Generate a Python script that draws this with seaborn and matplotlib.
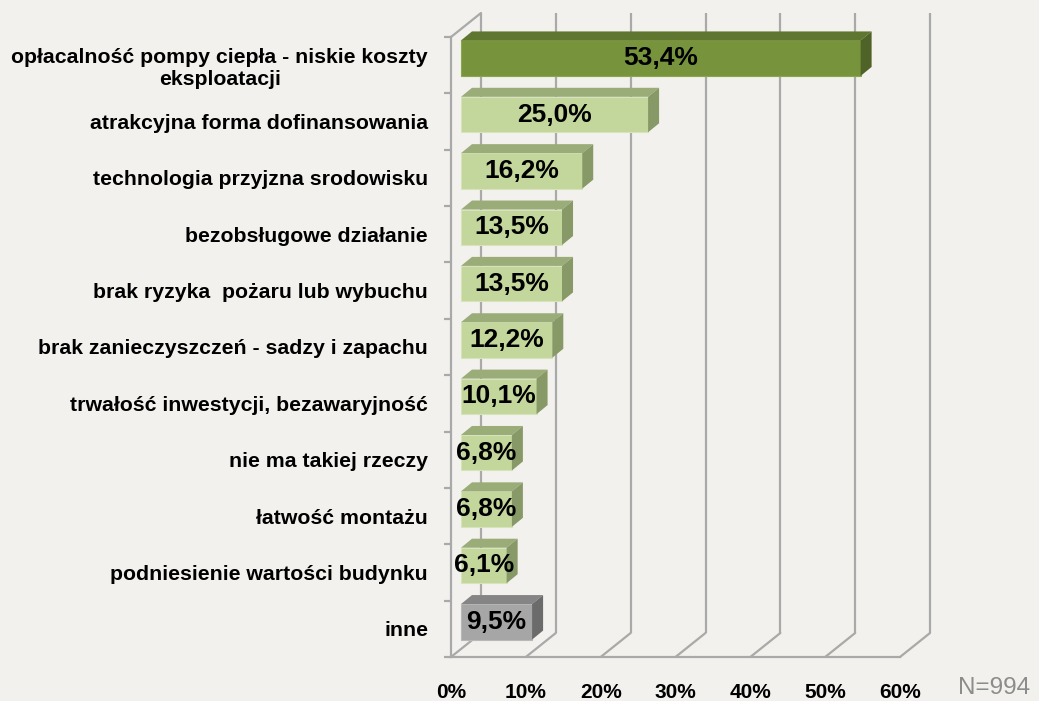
import matplotlib
matplotlib.use("Agg")
import matplotlib.pyplot as plt
import matplotlib.transforms as mtransforms
from matplotlib.patches import Polygon
from matplotlib.lines import Line2D
import seaborn as sns

# --- data ---
categories = [
    "opłacalność pompy ciepła - niskie koszty\neksploatacji",
    "atrakcyjna forma dofinansowania",
    "technologia przyjzna srodowisku",
    "bezobsługowe działanie",
    "brak ryzyka  pożaru lub wybuchu",
    "brak zanieczyszczeń - sadzy i zapachu",
    "trwałość inwestycji, bezawaryjność",
    "nie ma takiej rzeczy",
    "łatwość montażu",
    "podniesienie wartości budynku",
    "inne",
]
values = [53.4, 25.0, 16.2, 13.5, 13.5, 12.2, 10.1, 6.8, 6.8, 6.1, 9.5]
value_labels = ["53,4%", "25,0%", "16,2%", "13,5%", "13,5%", "12,2%",
                "10,1%", "6,8%", "6,8%", "6,1%", "9,5%"]
x_ticks = [0, 10, 20, 30, 40, 50, 60]
x_tick_labels = ["0%", "10%", "20%", "30%", "40%", "50%", "60%"]
sample_note = "N=994"

# bar colours: front, top, side
front_colors = ["#77933c"] + ["#c3d69b"] * 9 + ["#a6a6a6"]
top_colors = ["#5f7630"] + ["#9aac78"] * 9 + ["#858585"]
side_colors = ["#4f6228"] + ["#879966"] * 9 + ["#6b6b6b"]
edge_colors = ["#8aa64e"] + ["#d6e4bb"] * 9 + ["#b8b8b8"]

BG = "#f3f1ed"
GRID = "#a9a9a9"

sns.set_theme(style="white")
plt.rcParams["font.family"] = ["Liberation Sans", "DejaVu Sans"]

W, H = 1039, 701
fig = plt.figure(figsize=(W / 100, H / 100), dpi=100, facecolor=BG)
ax = fig.add_axes([451 / W, 44 / H, 449 / W, 620 / H])
ax.set_facecolor("none")

sns.barplot(x=values, y=categories, hue=categories, palette=front_colors,
            orient="h", width=0.63, saturation=1, legend=False,
            edgecolor="none", ax=ax, zorder=3)
n = len(categories)
ax.set_xlim(0, 60)
ax.set_ylim(n - 0.5, -0.5)


def shift(dx, dy):
    # pixel offset
    return mtransforms.ScaledTranslation(dx / fig.dpi, dy / fig.dpi, fig.dpi_scale_trans)


wall_tr = ax.transData + shift(30, 24)
bar_tr = ax.transData + shift(10, 7)
depth = (11, 9)
ident = mtransforms.IdentityTransform()

# back wall gridlines
ax.vlines(x_ticks, -0.5, n - 0.5, transform=wall_tr, colors=GRID, lw=1.6,
          clip_on=False, zorder=0.5)

# floor diagonals and top-left diagonal
diag_pts = [(t, n - 0.5) for t in x_ticks] + [(0, -0.5)]
for pt in diag_pts:
    p0 = ax.transData.transform(pt)
    ax.add_line(Line2D([p0[0], p0[0] + 30], [p0[1], p0[1] + 24], transform=ident,
                       color=GRID, lw=1.6, clip_on=False, zorder=0.5))

# 3D bars
bars = list(ax.patches)
for i, p in enumerate(bars):
    p.set_transform(bar_tr)
    p.set_edgecolor(edge_colors[i])
    p.set_linewidth(0.8)
    x0, y0, w, h = p.get_x(), p.get_y(), p.get_width(), p.get_height()
    a = bar_tr.transform((x0, y0))
    b = bar_tr.transform((x0 + w, y0))
    c = bar_tr.transform((x0 + w, y0 + h))
    dx, dy = depth
    top = [a, b, (b[0] + dx, b[1] + dy), (a[0] + dx, a[1] + dy)]
    side = [b, c, (c[0] + dx, c[1] + dy), (b[0] + dx, b[1] + dy)]
    ax.add_patch(Polygon(top, closed=True, transform=ident, facecolor=top_colors[i],
                         edgecolor="none", clip_on=False, zorder=3))
    ax.add_patch(Polygon(side, closed=True, transform=ident, facecolor=side_colors[i],
                         edgecolor="none", clip_on=False, zorder=3))
    ax.text(x0 + w / 2, y0 + h / 2, value_labels[i], transform=bar_tr,
            ha="center", va="center", fontsize=19, fontweight="bold",
            color="black", zorder=5, clip_on=False)

ax.set_xlim(0, 60)
ax.set_ylim(n - 0.5, -0.5)

# spines
for s in ["top", "right"]:
    ax.spines[s].set_visible(False)
for s in ["left", "bottom"]:
    ax.spines[s].set_color(GRID)
    ax.spines[s].set_linewidth(1.6)
    ax.spines[s].set_zorder(0.5)

# ticks
ax.set_xticks(x_ticks, labels=x_tick_labels)
ax.set_yticks(range(n), labels=categories)
ax.set_yticks([i - 0.5 for i in range(n + 1)], minor=True)
ax.tick_params(axis="x", which="major", length=5, width=1.6, color=GRID,
               direction="out", pad=14, labelsize=15)
ax.tick_params(axis="y", which="major", length=0, pad=16.5, labelsize=15.3)
ax.tick_params(axis="y", which="minor", left=True, length=5, width=1.6,
               color=GRID, direction="out")
for lbl in ax.get_xticklabels() + ax.get_yticklabels():
    lbl.set_fontweight("bold")
    lbl.set_color("black")
for lbl in ax.get_yticklabels():
    lbl.set_multialignment("center")
ax.set_xlabel("")
ax.set_ylabel("")

fig.text(1030 / W, 1 - 688 / H, sample_note, ha="right", va="center",
         color="#8c8c8c", fontsize=17.5)

fig.savefig("out.png", dpi=100, facecolor=BG)
